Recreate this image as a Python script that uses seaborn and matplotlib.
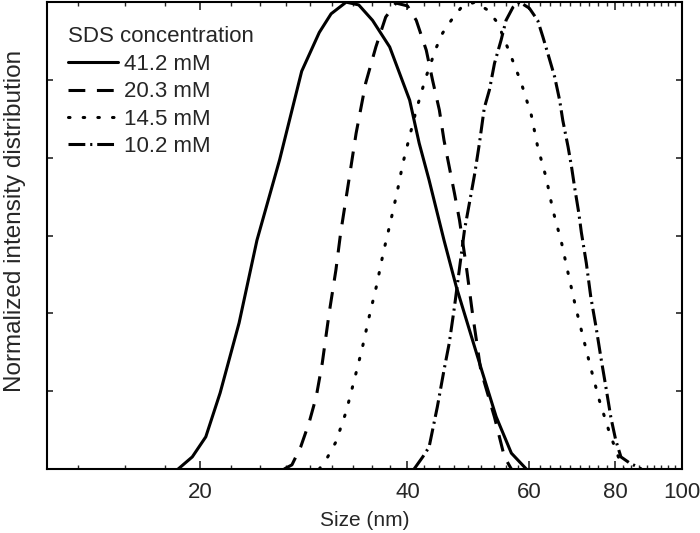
import matplotlib
matplotlib.use('Agg')
import matplotlib.pyplot as plt
import seaborn as sns
import numpy as np
from matplotlib.ticker import FixedLocator, NullFormatter

# Size (nm) / normalized intensity
size_41 = [18.6, 19.5, 20.4, 21.4, 22.8, 24.2, 26.1, 28.1, 29.8, 31.0, 32.6, 34.0, 35.6,
           37.7, 40.3, 41.6, 43.0, 45.2, 47.1, 51.4, 53.8, 56.6, 59.5]
int_41 = [0.0, 0.026, 0.069, 0.163, 0.313, 0.490, 0.662, 0.852, 0.935, 0.975, 1.0, 0.994, 0.961,
          0.904, 0.790, 0.698, 0.619, 0.490, 0.390, 0.206, 0.112, 0.034, 0.0]

size_20 = [26.5, 27.2, 28.0, 28.8, 29.5, 30.1, 30.8, 31.5, 32.0, 32.9, 33.7, 34.8, 36.0, 37.2,
           38.5, 40.0, 41.2, 42.6, 43.5, 44.5, 45.2, 46.0, 46.8, 47.6, 48.7, 49.7, 51.1, 53.5,
           55.3, 56.6]
int_20 = [0.0, 0.009, 0.047, 0.099, 0.155, 0.227, 0.334, 0.426, 0.505, 0.619, 0.719, 0.827, 0.904,
          0.968, 0.998, 0.992, 0.961, 0.897, 0.833, 0.769, 0.704, 0.647, 0.591, 0.533, 0.433,
          0.334, 0.212, 0.111, 0.026, 0.0]

size_14 = [29.8, 30.6, 31.5, 32.6, 33.5, 34.4, 35.2, 36.1, 36.9, 37.8, 38.7, 39.4, 40.1, 41.2,
           42.5, 44.0, 45.0, 46.3, 47.9, 50.1, 52.3, 54.1, 56.3, 58.5, 60.5, 61.8, 63.6, 65.0,
           66.9, 68.4, 70.1, 71.9, 73.8, 75.9, 78.5, 81.0, 82.5]
int_14 = [0.0, 0.024, 0.058, 0.123, 0.191, 0.259, 0.326, 0.394, 0.463, 0.529, 0.597, 0.655, 0.700,
          0.769, 0.837, 0.901, 0.934, 0.961, 0.989, 1.0, 0.983, 0.955, 0.891, 0.827, 0.758,
          0.690, 0.623, 0.555, 0.486, 0.420, 0.349, 0.283, 0.216, 0.148, 0.079, 0.024, 0.0]

size_10 = [40.9, 42.1, 43.0, 44.2, 45.2, 46.0, 46.8, 48.4, 49.5, 50.1, 50.9, 51.7, 52.6, 53.5,
           54.7, 55.6, 56.9, 58.2, 60.1, 61.8, 62.9, 63.9, 65.4, 66.5, 67.2, 68.4, 69.2, 69.9,
           70.9, 71.5, 72.7, 73.8, 75.1, 76.3, 77.6, 78.9, 80.2, 81.6, 84.0, 87.4]
int_10 = [0.0, 0.026, 0.047, 0.133, 0.212, 0.270, 0.347, 0.512, 0.591, 0.634, 0.700, 0.773, 0.812,
          0.869, 0.919, 0.961, 0.989, 1.0, 0.987, 0.961, 0.925, 0.891, 0.840, 0.790, 0.747,
          0.690, 0.647, 0.604, 0.548, 0.507, 0.441, 0.368, 0.304, 0.240, 0.176, 0.111, 0.062,
          0.026, 0.013, 0.0]

labels = ['41.2 mM', '20.3 mM', '14.5 mM', '10.2 mM']
sizes = [size_41, size_20, size_14, size_10]
intensities = [int_41, int_20, int_14, int_10]
styles = ['-', (0, (5.5, 3.8)), (0, (0.5, 4.3)), (0, (5.5, 1.6, 0.7, 1.6))]
caps = ['butt', 'butt', 'round', 'butt']

major_ticks = [20, 40, 60, 80, 100]
minor_ticks = [20 / 9 * k for k in range(6, 45)]

sns.set_style("ticks")
plt.rcParams['font.family'] = ['Liberation Sans', 'DejaVu Sans']

fig, ax = plt.subplots(figsize=(7, 5.33), dpi=100)
fig.subplots_adjust(left=0.067, right=0.974, bottom=0.12, top=0.996)

for s, v, lab, ls, cap in zip(sizes, intensities, labels, styles, caps):
    sns.lineplot(x=s, y=v, ax=ax, color='black', linewidth=2.2, linestyle=ls,
                 dash_capstyle=cap, label=lab, sort=False)

ax.set_xscale('log')
ax.set_xlim(12, 100)
ax.set_ylim(0, 1)

ax.xaxis.set_major_locator(FixedLocator(major_ticks))
ax.set_xticklabels([str(t) for t in major_ticks])
ax.xaxis.set_minor_locator(FixedLocator(minor_ticks))
ax.xaxis.set_minor_formatter(NullFormatter())
ax.set_yticks(np.linspace(0, 1, 7))
ax.set_yticklabels([])

ax.tick_params(axis='x', which='major', direction='in', length=6, width=1.2,
               top=True, labelsize=16, pad=9)
ax.tick_params(axis='x', which='minor', direction='in', length=3, width=1.0, top=True)
ax.tick_params(axis='y', which='major', direction='in', length=4, width=1.2, right=True)
for sp in ax.spines.values():
    sp.set_linewidth(1.5)
    sp.set_color('black')

ax.set_xlabel('Size (nm)', fontsize=15, labelpad=6)
ax.set_ylabel('Normalized intensity distribution', fontsize=17.5)
ax.yaxis.set_label_coords(-0.033, 0.532)

leg = ax.legend(title='SDS concentration', loc='upper left', frameon=False,
                fontsize=16, title_fontsize=16, handlelength=2.25, handletextpad=0.25,
                labelspacing=0.29, borderpad=0, borderaxespad=0,
                bbox_to_anchor=(0.034, 0.948), alignment='left')

plt.savefig('out.png', dpi=100)
plt.close('all')
